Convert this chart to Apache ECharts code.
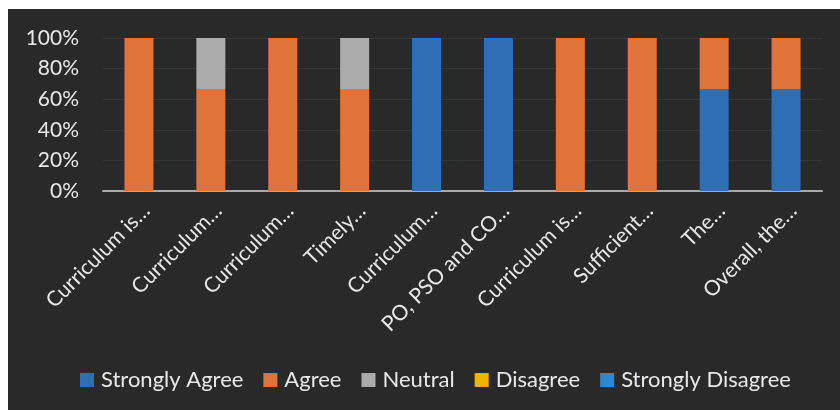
<!DOCTYPE html>
<html><head><meta charset="utf-8">
<script src="https://cdn.jsdelivr.net/npm/echarts@6/dist/echarts.min.js"></script>
<style>
html,body{margin:0;padding:0;background:#ffffff;width:840px;height:410px;overflow:hidden}
#c{position:absolute;left:8px;top:9px;width:832px;height:401px;background:#292929}
</style></head>
<body><div id="c"></div>
<script>
const categories = ['Curriculum is…','Curriculum…','Curriculum…','Timely…','Curriculum…','PO, PSO and CO…','Curriculum is…','Sufficient…','The…','Overall, the…'];
const stronglyAgree    = [0, 0, 0, 0, 100, 100, 0, 0, 66.7, 66.7];
const agree            = [100, 66.7, 100, 66.7, 0, 0, 100, 100, 33.3, 33.3];
const neutral          = [0, 33.3, 0, 33.3, 0, 0, 0, 0, 0, 0];
const disagree         = [0, 0, 0, 0, 0, 0, 0, 0, 0, 0];
const stronglyDisagree = [0, 0, 0, 0, 0, 0, 0, 0, 0, 0];
const yTicks = [0, 20, 40, 60, 80, 100];

const font = 'Lato, "Open Sans", sans-serif';
const chart = echarts.init(document.getElementById('c'), null, {renderer:'canvas'});
function s(name, data, color){
  return {name, type:'bar', stack:'all', data, barWidth:29, itemStyle:{color}, emphasis:{disabled:true}};
}
chart.setOption({
  backgroundColor:'#292929',
  animation:false,
  textStyle:{fontFamily:font},
  grid:{left:95, right:18, top:29, bottom:219},
  legend:{
    top:355, left:67, itemWidth:14, itemHeight:14, itemGap:20, icon:'rect',
    textStyle:{color:'#e8e8e8', fontSize:22, fontFamily:font, padding:[0,0,0,2]},
    data:['Strongly Agree','Agree','Neutral','Disagree','Strongly Disagree']
  },
  xAxis:{
    type:'category', data:categories,
    axisLine:{lineStyle:{color:'#a9a9a9', width:2}},
    axisTick:{show:false},
    axisLabel:{rotate:45, color:'#e8e8e8', fontSize:21, fontFamily:font, interval:0, margin:9, verticalAlign:'top'}
  },
  yAxis:{
    type:'value', min:0, max:100, interval:20,
    axisLabel:{color:'#e8e8e8', fontSize:21, fontFamily:font, margin:24,
      formatter:v=> yTicks.includes(v) ? v + '%' : ''},
    splitLine:{lineStyle:{color:'#363636', width:1}},
    axisLine:{show:false}, axisTick:{show:false}
  },
  series:[
    s('Strongly Agree', stronglyAgree, '#2f6db5'),
    s('Agree', agree, '#e0733a'),
    s('Neutral', neutral, '#ababab'),
    s('Disagree', disagree, '#f0b400'),
    s('Strongly Disagree', stronglyDisagree, '#2f86cc')
  ]
});
</script></body></html>
